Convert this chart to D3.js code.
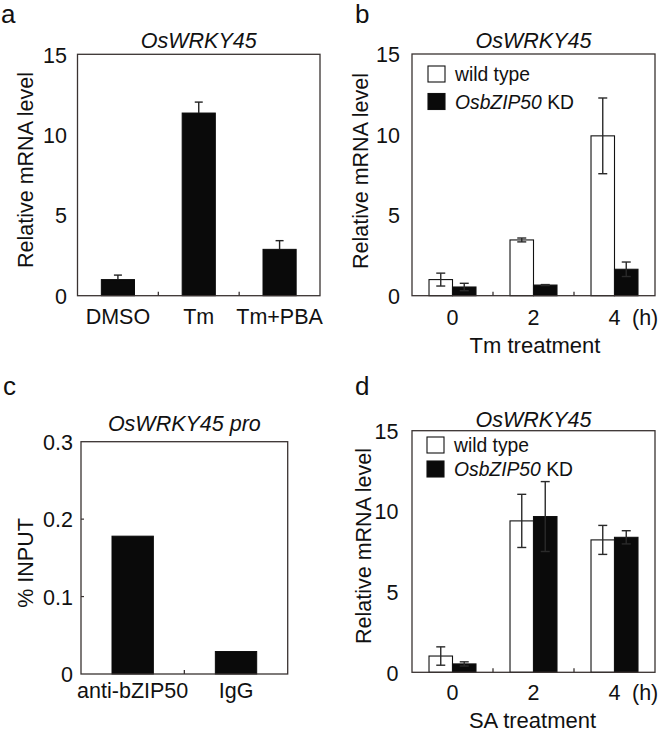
<!DOCTYPE html>
<html><head><meta charset="utf-8">
<script src="https://cdn.jsdelivr.net/npm/d3@7"></script>
<style>
body{margin:0;background:#fff;}
svg{display:block;font-family:"Liberation Sans",Arial,sans-serif;}
</style></head>
<body>
<svg id="c" width="658" height="737"></svg>
<script>
// ---- data ----
const catsA = ["DMSO", "Tm", "Tm+PBA"];
const valsA = [1.0, 11.35, 2.88];
const errA = [0.28, 0.68, 0.54];

const timesB = ["0", "2", "4"];
const wtB = [1.0, 3.46, 9.92];
const wtErrB = [0.4, 0.12, 2.35];
const kdB = [0.54, 0.66, 1.64];
const kdErrB = [0.23, 0.03, 0.45];

const catsC = ["anti-bZIP50", "IgG"];
const valsC = [0.178, 0.029];

const timesD = ["0", "2", "4"];
const wtD = [1.01, 9.4, 8.22];
const wtErrD = [0.57, 1.65, 0.9];
const kdD = [0.52, 9.67, 8.38];
const kdErrD = [0.13, 2.17, 0.41];

const ticksMRNA = [0, 5, 10, 15];
const ticksInput = [0, 0.1, 0.2, 0.3];
const ticksInputLabels = ["0", "0.1", "0.2", "0.3"];

const svg = d3.select("#c");
const LINE = "#3a3332";
const FS = 21.5;

function panel(o) {
  const g = svg.append("g");
  const x = d3.scaleBand().domain(o.cats).range([o.left, o.right]);
  const y = d3.scaleLinear().domain(o.domain).range([o.bottom, o.top]);
  // panel letter
  svg.append("text").attr("x", o.lx).attr("y", o.ly).attr("font-size", 26).attr("fill", "#111").text(o.letter);
  // title
  const t = svg.append("text").attr("x", (o.left + o.right) / 2).attr("y", o.titleY)
    .attr("text-anchor", "middle").attr("font-size", FS).attr("fill", "#111").attr("font-style", "italic");
  t.text(o.title);
  // y tick labels
  const yAxis = d3.axisLeft(y).tickValues(o.ticks).tickSize(0).tickPadding(0)
    .tickFormat((d, i) => o.tickLabels ? o.tickLabels[i] : d3.format("d")(d));
  const ya = g.append("g").attr("transform", `translate(${o.tickRight},0)`).call(yAxis);
  ya.select(".domain").remove();
  ya.selectAll("text").attr("font-size", FS).attr("fill", "#111").attr("font-family", "Liberation Sans, Arial, sans-serif").attr("dy", "0.36em");
  // inner y ticks (small)
  if (o.innerYTicks) {
    g.selectAll(".iyt").data(o.innerYTicks).enter().append("line")
      .attr("x1", o.left).attr("x2", o.left + 3).attr("y1", d => y(d)).attr("y2", d => y(d))
      .attr("stroke", LINE).attr("stroke-width", 1.2);
  }
  // y title
  svg.append("text").attr("transform", `translate(${o.ytX},${o.ytY}) rotate(-90)`)
    .attr("text-anchor", "middle").attr("font-size", FS).attr("fill", "#111").text(o.ytitle);
  // bars
  const bw = x.bandwidth();
  if (o.single) {
    g.selectAll(".bar").data(o.single).enter().append("rect")
      .attr("x", (d, i) => x(o.cats[i]) + bw * (1 - o.barFrac) / 2)
      .attr("width", bw * o.barFrac)
      .attr("y", d => y(d)).attr("height", d => y(0) - y(d))
      .attr("fill", "#0a0a0a").attr("stroke", "#0a0a0a").attr("stroke-width", 1);
    if (o.singleErr) {
      o.single.forEach((v, i) => {
        const cx = x(o.cats[i]) + bw / 2;
        const e = o.singleErr[i];
        g.append("line").attr("x1", cx).attr("x2", cx).attr("y1", y(v)).attr("y2", y(v + e)).attr("stroke", "#222").attr("stroke-width", 1.4);
        g.append("line").attr("x1", cx - 4).attr("x2", cx + 4).attr("y1", y(v + e)).attr("y2", y(v + e)).attr("stroke", "#222").attr("stroke-width", 1.4);
      });
    }
  }
  if (o.pairs) {
    const sub = d3.scaleBand().domain(["wt", "kd"]).range([0, bw * o.barFrac]);
    const off = bw * (1 - o.barFrac) / 2;
    const series = [
      {k: "wt", v: o.pairs[0], e: o.pairs[1], fill: "#fff"},
      {k: "kd", v: o.pairs[2], e: o.pairs[3], fill: "#0a0a0a"}
    ];
    series.forEach(s => {
      g.selectAll(".b" + s.k).data(s.v).enter().append("rect")
        .attr("x", (d, i) => x(o.cats[i]) + off + sub(s.k))
        .attr("width", sub.bandwidth())
        .attr("y", d => y(d)).attr("height", d => y(0) - y(d))
        .attr("fill", s.fill).attr("stroke", "#111").attr("stroke-width", 1.1);
    });
    series.forEach(s => {
      s.v.forEach((v, i) => {
        const cx = x(o.cats[i]) + off + sub(s.k) + sub.bandwidth() / 2;
        const e = s.e[i];
        const lo = Math.max(0, v - e), hi = v + e;
        g.append("line").attr("x1", cx).attr("x2", cx).attr("y1", y(lo)).attr("y2", y(hi)).attr("stroke", "#2a2a2a").attr("stroke-width", 1.4);
        [lo, hi].forEach(w => {
          g.append("line").attr("x1", cx - 4.5).attr("x2", cx + 4.5).attr("y1", y(w)).attr("y2", y(w)).attr("stroke", "#2a2a2a").attr("stroke-width", 1.4);
        });
      });
    });
    // legend
    const L = o.legend;
    const items = [{fill: "#fff", y: L.y1, label: [["wild type", false]]},
                   {fill: "#0a0a0a", y: L.y2, label: [["OsbZIP50", true], [" KD", false]]}];
    items.forEach(it => {
      g.append("rect").attr("x", L.x).attr("y", it.y).attr("width", 17).attr("height", 16)
        .attr("fill", it.fill).attr("stroke", "#111").attr("stroke-width", 1.1);
      const tx = g.append("text").attr("x", L.x + 27).attr("y", it.y + 15).attr("font-size", 19.3).attr("fill", "#111");
      it.label.forEach(p => tx.append("tspan").attr("font-style", p[1] ? "italic" : "normal").text(p[0]));
    });
  }
  // frame
  g.append("rect").attr("x", o.left).attr("y", o.top).attr("width", o.right - o.left).attr("height", o.bottom - o.top)
    .attr("fill", "none").attr("stroke", LINE).attr("stroke-width", 1.3);
  // inner x ticks at band boundaries
  const bounds = o.cats.slice(1).map(c => x(c));
  g.selectAll(".xt").data(bounds).enter().append("line")
    .attr("x1", d => d).attr("x2", d => d).attr("y1", o.bottom).attr("y2", o.bottom - 4)
    .attr("stroke", LINE).attr("stroke-width", 1.3);
  // x labels
  const xAxis = d3.axisBottom(x).tickSize(0).tickPadding(0);
  const xa = g.append("g").attr("transform", `translate(0,${o.xLabelY})`).call(xAxis);
  xa.select(".domain").remove();
  xa.selectAll("text").attr("font-size", FS).attr("fill", "#111").attr("dy", 0).attr("y", 0)
    .attr("font-family", "Liberation Sans, Arial, sans-serif");
  if (o.hLabel) {
    svg.append("text").attr("x", o.hLabel.x).attr("y", o.xLabelY).attr("font-size", FS).attr("fill", "#111").text("(h)");
  }
  if (o.xtitle) {
    svg.append("text").attr("x", o.xtitle.x).attr("y", o.xtitle.y).attr("text-anchor", "middle").attr("font-size", 22).attr("fill", "#111").text(o.xtitle.t);
  }
}

panel({letter: "a", lx: 1, ly: 23, title: "OsWRKY45", titleY: 48,
  cats: catsA, left: 77.5, right: 320, top: 54.3, bottom: 295.7, domain: [0, 15],
  ticks: ticksMRNA, tickRight: 67, ytitle: "Relative mRNA level", ytX: 33, ytY: 170,
  single: valsA, singleErr: errA, barFrac: 0.41, xLabelY: 324});

panel({letter: "b", lx: 355, ly: 23, title: "OsWRKY45", titleY: 48,
  cats: timesB, left: 412, right: 655, top: 54, bottom: 295.7, domain: [0, 15],
  ticks: ticksMRNA, tickRight: 400, ytitle: "Relative mRNA level", ytX: 368, ytY: 171,
  pairs: [wtB, wtErrB, kdB, kdErrB], barFrac: 0.58, legend: {x: 428, y1: 66, y2: 93.5},
  xLabelY: 325, hLabel: {x: 632}, xtitle: {x: 535, y: 353, t: "Tm treatment"}});

panel({letter: "c", lx: 3, ly: 395, title: "OsWRKY45 pro", titleY: 431,
  cats: catsC, left: 81, right: 287.7, top: 441.7, bottom: 674, domain: [0, 0.3],
  ticks: ticksInput, tickLabels: ticksInputLabels, tickRight: 73, ytitle: "% INPUT", ytX: 33, ytY: 563,
  innerYTicks: [0.1, 0.2], single: valsC, barFrac: 0.4, xLabelY: 698});

panel({letter: "d", lx: 355, ly: 395, title: "OsWRKY45", titleY: 426.5,
  cats: timesD, left: 412, right: 655, top: 430.7, bottom: 672.3, domain: [0, 15],
  ticks: ticksMRNA, tickRight: 398.5, ytitle: "Relative mRNA level", ytX: 371, ytY: 546,
  pairs: [wtD, wtErrD, kdD, kdErrD], barFrac: 0.58, legend: {x: 427, y1: 437, y2: 461},
  xLabelY: 700, hLabel: {x: 632}, xtitle: {x: 532.5, y: 728, t: "SA treatment"}});
</script>
</body></html>
